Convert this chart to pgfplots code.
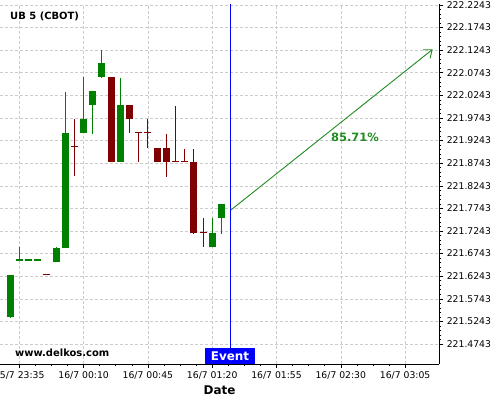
\documentclass[border=0pt]{standalone}
\usepackage{fontspec}
\setmainfont{DejaVu Sans}
\usepackage{pgfplots}
\usepackage{pgfplotstable}
\pgfplotsset{compat=1.18}
\usetikzlibrary{arrows.meta}
\definecolor{cgreen}{RGB}{0,128,0}
\definecolor{cred}{RGB}{128,0,0}
\definecolor{agreen}{RGB}{34,139,34}
\definecolor{eblue}{RGB}{0,0,255}

\pgfplotstableread{
x open high low close
-5 221.5347 221.6270 221.5325 221.6270
20 221.6579 221.6889 221.6564 221.6889
25 221.6882 222.0340 221.6882 221.9418
35 221.9411 222.0650 221.9411 221.9721
40 222.0037 222.0340 221.9411 222.0340
45 222.0650 222.1254 222.0635 222.0960
55 221.8770 222.0643 221.8770 222.0031
105 221.6896 221.7524 221.6896 221.7199
110 221.7537 221.7840 221.7192 221.7840
}\greendata

\pgfplotstableread{
x open high low close
50 222.0650 222.0650 221.8770 221.8770
60 222.0031 222.0031 221.9411 221.9728
75 221.9073 221.9073 221.8770 221.8770
80 221.9073 221.9405 221.8460 221.8770
95 221.8770 221.9073 221.7205 221.7205
}\reddata

% candles whose open equals close (drawn as a dash)
\pgfplotstableread{
x open high low close
0 221.6601 221.6889 221.6601 221.6601
5 221.6601 221.6601 221.6601 221.6601
10 221.6601 221.6601 221.6601 221.6601
}\greenflat

\pgfplotstableread{
x open high low close
15 221.6285 221.6285 221.6285 221.6285
30 221.9108 221.9721 221.8460 221.9108
65 221.9427 221.9427 221.8770 221.9427
70 221.9427 221.9721 221.9095 221.9427
85 221.8785 222.0024 221.8785 221.8785
90 221.8785 221.9073 221.8785 221.8785
100 221.7214 221.7524 221.6882 221.7214
}\redflat

\begin{document}
\begin{tikzpicture}
\fill[white] (0,0) rectangle (500bp,400bp);
\begin{axis}[
  at={(0bp,36bp)}, anchor=south west,
  scale only axis, width=439.3bp, height=360bp,
  xmin=-10.5, xmax=228.6, ymin=221.4301, ymax=222.2265,
  axis x line*=bottom, axis y line*=right,
  axis line style={black, line width=0.8bp},
  tick align=outside,
  major tick length=4bp, minor tick length=2bp,
  every tick/.style={black, line width=0.6bp},
  xtick={0,35,70,105,140,175,210},
  xticklabels={15/7 23:35,16/7 00:10,16/7 00:45,16/7 01:20,16/7 01:55,16/7 02:30,16/7 03:05},
  minor x tick num=3,
  ytick={221.4743,221.5243,221.5743,221.6243,221.6743,221.7243,221.7743,221.8243,221.8743,221.9243,221.9743,222.0243,222.0743,222.1243,222.1743,222.2243},
  yticklabels={221.4743,221.5243,221.5743,221.6243,221.6743,221.7243,221.7743,221.8243,221.8743,221.9243,221.9743,222.0243,222.0743,222.1243,222.1743,222.2243},
  minor y tick num=4,
  grid=major,
  major grid style={gray!40, dash pattern=on 3bp off 2bp, line width=0.6bp},
  ticklabel style={font=\fontsize{9.3}{11}\selectfont, text=black},
  yticklabel style={anchor=west, xshift=0bp},
  xlabel={Date},
  xlabel style={font=\bfseries\fontsize{12}{14}\selectfont},
]
% wicks
\addplot[draw=none, mark=none, forget plot,
  error bars/.cd, y dir=both, y explicit, error mark=none,
  error bar style={cgreen, line width=1bp}]
  table[x=x, y expr={(\thisrow{high}+\thisrow{low})/2}, y error expr={(\thisrow{high}-\thisrow{low})/2}] {\greendata};
\addplot[draw=none, mark=none, forget plot,
  error bars/.cd, y dir=both, y explicit, error mark=none,
  error bar style={cgreen, line width=1bp}]
  table[x=x, y expr={(\thisrow{high}+\thisrow{low})/2}, y error expr={(\thisrow{high}-\thisrow{low})/2}] {\greenflat};
\addplot[draw=none, mark=none, forget plot,
  error bars/.cd, y dir=both, y explicit, error mark=none,
  error bar style={cred, line width=1bp}]
  table[x=x, y expr={(\thisrow{high}+\thisrow{low})/2}, y error expr={(\thisrow{high}-\thisrow{low})/2}] {\reddata};
\addplot[draw=none, mark=none, forget plot,
  error bars/.cd, y dir=both, y explicit, error mark=none,
  error bar style={cred, line width=1bp}]
  table[x=x, y expr={(\thisrow{high}+\thisrow{low})/2}, y error expr={(\thisrow{high}-\thisrow{low})/2}] {\redflat};
% bodies
\addplot[draw=none, mark=none, forget plot,
  error bars/.cd, y dir=both, y explicit, error mark=none,
  error bar style={cgreen, line width=7bp}]
  table[x=x, y expr={(\thisrow{open}+\thisrow{close})/2}, y error expr={abs(\thisrow{close}-\thisrow{open})/2}] {\greendata};
\addplot[draw=none, mark=none, forget plot,
  error bars/.cd, y dir=both, y explicit, error mark=none,
  error bar style={cred, line width=7bp}]
  table[x=x, y expr={(\thisrow{open}+\thisrow{close})/2}, y error expr={abs(\thisrow{close}-\thisrow{open})/2}] {\reddata};
% flat bodies
\addplot[only marks, mark=-, mark size=3.5bp, cgreen, mark options={line width=1.2bp}]
  table[x=x, y=close] {\greenflat};
\addplot[only marks, mark=-, mark size=3.5bp, cred, mark options={line width=1.2bp}]
  table[x=x, y=close] {\redflat};
% event line
\addplot[eblue, line width=1bp] coordinates {(114.7,221.4301) (114.7,222.2265)};
% forecast arrow
\addplot[agreen, line width=0.9bp, -{Straight Barb[length=7bp, width=11bp]}]
  coordinates {(115.2,221.7708) (225.0,222.1263)};
\node[agreen, font=\bfseries\fontsize{11.5}{13}\selectfont] at (axis cs:182.7,221.9307) {85.71\%};
\node[fill=eblue, text=white, font=\bfseries\fontsize{12}{14}\selectfont,
  inner xsep=5.8bp, inner ysep=3.6bp, text height=8.75bp, text depth=0bp, anchor=south]
  at (axis cs:114.7,221.4301) {Event};
\node[anchor=base west, font=\bfseries\fontsize{10}{12}\selectfont, inner sep=0pt]
  at (rel axis cs:0.0228,0.9583) {UB 5 (CBOT)};
\node[anchor=base west, font=\bfseries\fontsize{10}{12}\selectfont, inner sep=0pt]
  at (rel axis cs:0.0341,0.0203) {www.delkos.com};
\end{axis}
\pgfresetboundingbox
\useasboundingbox (0,0) rectangle (500bp,400bp);
\end{tikzpicture}
\end{document}
